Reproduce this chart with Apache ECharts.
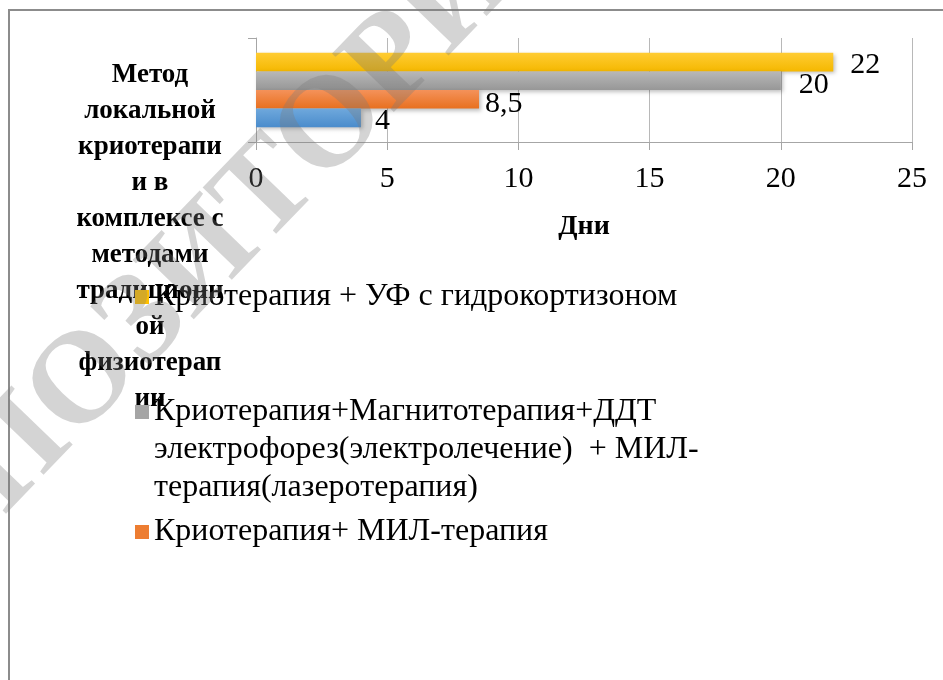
<!DOCTYPE html>
<html>
<head>
<meta charset="utf-8">
<script src="https://cdn.jsdelivr.net/npm/echarts@6/dist/echarts.min.js"></script>
<style>
html,body{margin:0;padding:0;background:#fff;}
#c{width:943px;height:680px;}
</style>
</head>
<body>
<div id="c"></div>
<script>
// ---- data ----
var categories = ['Метод\nлокальной\nкриотерапи\nи в\nкомплексе с\nметодами\nтрадиционн\nой\nфизиотерап\nии'];
var seriesNames = [
  'Криотерапия + УФ с гидрокортизоном',
  'Криотерапия+Магнитотерапия+ДДТ электрофорез(электролечение)  + МИЛ-терапия(лазеротерапия)',
  'Криотерапия+ МИЛ-терапия',
  'Криотерапия'
];
var yellowValues = [22];
var grayValues = [20];
var orangeValues = [8.5];
var blueValues = [4];
var dataLabels = ['22', '20', '8,5', '4'];
var axisName = 'Дни';
var xMin = 0, xMax = 25, xInterval = 5;

var SERIF = '"Liberation Serif", "Times New Roman", serif';

function grad(top, bottom) {
  return new echarts.graphic.LinearGradient(0, 0, 0, 1, [
    {offset: 0, color: top}, {offset: 1, color: bottom}
  ]);
}
var colors = [
  grad('#ffcc33', '#f5b800'),
  grad('#b8b8b8', '#979797'),
  grad('#f4925a', '#e8701f'),
  grad('#6fa8dc', '#4a8ccc')
];
var solid = ['#ffc000', '#a5a5a5', '#ed7d31', '#5b9bd5'];
var values = [yellowValues, grayValues, orangeValues, blueValues];
var labelDist = [17, 18, 6, 14];
var labelOff = [[0, 3], [0, 4], [0, 5], [0, 3]];

var series = values.map(function (v, i) {
  return {
    type: 'bar',
    name: seriesNames[i],
    data: v,
    barGap: '0%',
    barCategoryGap: '28.6%',
    itemStyle: {
      color: colors[i],
      shadowColor: 'rgba(0,0,0,0.25)', shadowBlur: 4, shadowOffsetX: 2, shadowOffsetY: 2
    },
    label: {
      show: true,
      position: 'right',
      distance: labelDist[i],
      offset: labelOff[i],
      formatter: function () { return dataLabels[i]; },
      fontFamily: SERIF,
      fontSize: 30,
      color: '#000'
    }
  };
});

function legendFor(idx, top, extra) {
  return Object.assign({
    show: true,
    data: [{name: seriesNames[idx], itemStyle: {color: solid[idx]}}],
    orient: 'vertical',
    left: 135,
    top: top,
    padding: 0,
    icon: 'rect',
    itemWidth: 14,
    itemHeight: 14,
    selectedMode: false,
    textStyle: {fontFamily: SERIF, fontSize: 32, color: '#000', lineHeight: 38}
  }, extra || {});
}

var chart = echarts.init(document.getElementById('c'), null, {renderer: 'canvas'});
chart.setOption({
  backgroundColor: '#fff',
  animation: false,
  grid: {left: 256, right: 31, top: 38, bottom: 538, containLabel: false, outerBoundsMode: 'none'},
  xAxis: {
    type: 'value',
    min: xMin, max: xMax, interval: xInterval,
    name: axisName,
    nameLocation: 'middle',
    nameGap: 71,
    nameTextStyle: {fontFamily: SERIF, fontSize: 28, fontWeight: 'bold', color: '#000'},
    axisLine: {show: true, lineStyle: {color: '#a6a6a6', width: 1}},
    axisTick: {show: true, length: 8, lineStyle: {color: '#a6a6a6'}},
    splitLine: {show: true, lineStyle: {color: '#b8b8b8', width: 1}},
    axisLabel: {fontFamily: SERIF, fontSize: 30, color: '#000', margin: 22}
  },
  yAxis: {
    type: 'category',
    data: categories,
    inverse: true,
    axisLine: {show: true, lineStyle: {color: '#a6a6a6'}},
    axisTick: {show: true, length: 8, lineStyle: {color: '#a6a6a6'}},
    axisLabel: {
      fontFamily: SERIF, fontSize: 27, fontWeight: 'bold', color: '#000',
      align: 'center', verticalAlign: 'middle', lineHeight: 36,
      margin: 106,
      formatter: function (v) { return '{s| }\n' + v; },
      rich: {s: {fontSize: 2, lineHeight: 294}}
    }
  },
  legend: [
    legendFor(0, 278),
    legendFor(1, 317, {
      formatter: function () {
        return '\n\nКриотерапия+Магнитотерапия+ДДТ\nэлектрофорез(электролечение)  + МИЛ-\nтерапия(лазеротерапия)';
      }
    }),
    legendFor(2, 513)
  ],
  graphic: [
    {
      type: 'rect', silent: true, z: 0,
      shape: {x: 9, y: 10, width: 1200, height: 1000},
      style: {fill: 'none', stroke: '#8c8c8c', lineWidth: 2}
    },
    {
      type: 'text', silent: true, z: 100,
      x: 214, y: 250, rotation: 46 * Math.PI / 180,
      style: {
        text: 'РЕПОЗИТОРИЙ',
        fontFamily: SERIF, fontSize: 130, fontWeight: 'bold',
        fill: 'rgba(120,120,120,0.32)',
        align: 'center', verticalAlign: 'middle'
      }
    }
  ],
  series: series
});
</script>
</body>
</html>
